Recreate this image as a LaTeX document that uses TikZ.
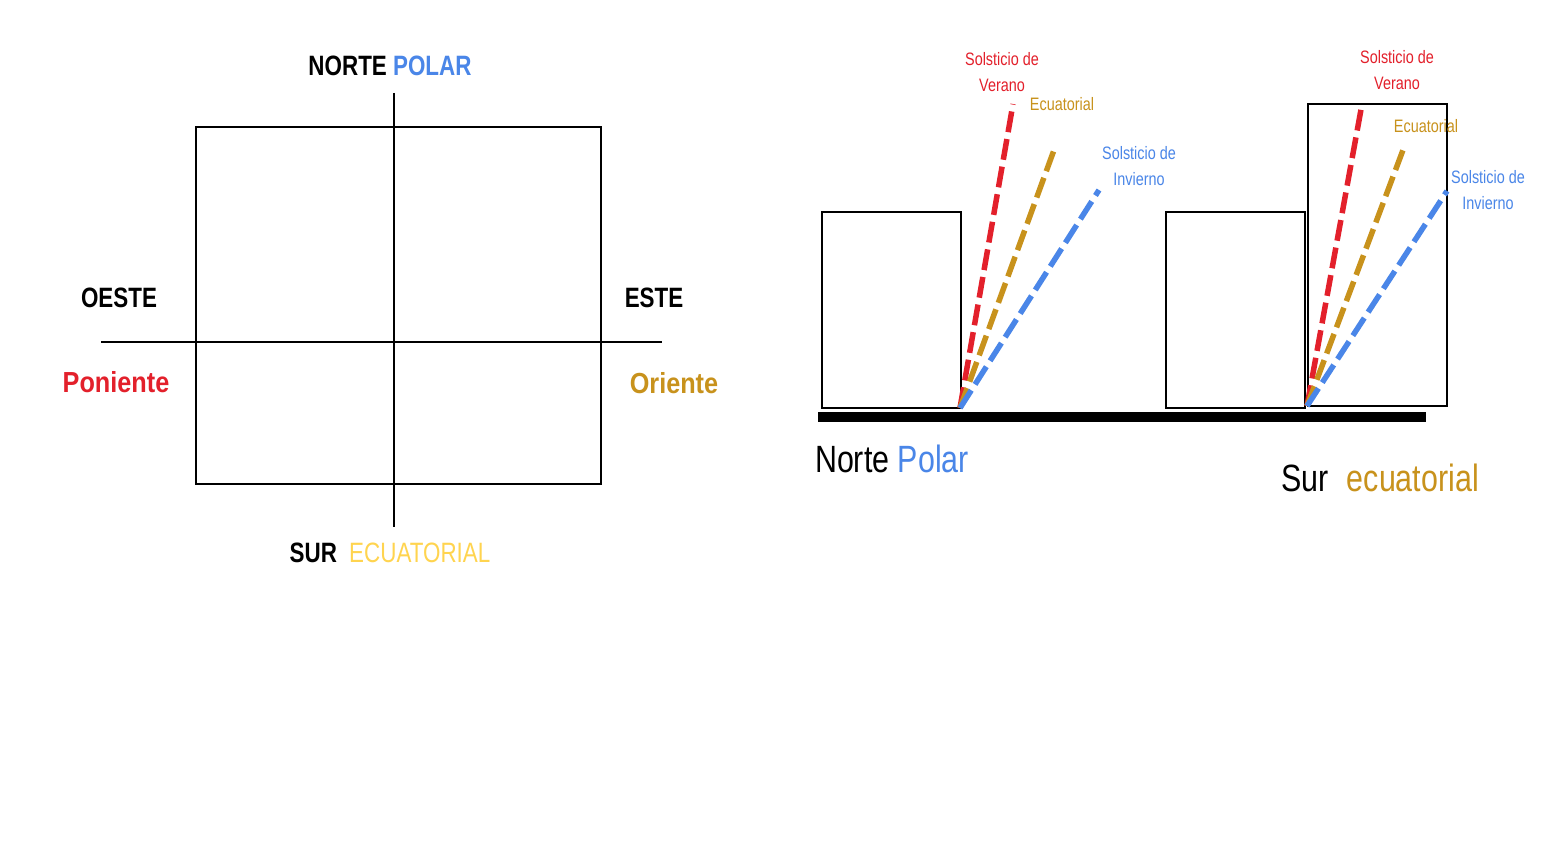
\documentclass[tikz,border=0pt]{standalone}
\usepackage{fontspec}
\setmainfont[FakeStretch=0.8]{Liberation Sans}
\newfontfamily\widefont[FakeStretch=0.87]{Liberation Sans}
\definecolor{cred}{HTML}{E3202B}
\definecolor{cblue}{HTML}{4A86E8}
\definecolor{cgold}{HTML}{C8921C}
\definecolor{cyel}{HTML}{FFD44F}
\begin{document}
\begin{tikzpicture}[x=1pt,y=-1pt,
  thinline/.style={line width=1.8pt,black},
  boxline/.style={line width=1.8pt,black},
  ray/.style={line width=5.5pt,dash pattern=on 21pt off 7pt},
  biglab/.style={font=\fontsize{28}{32}\selectfont\bfseries,inner sep=0pt},
  widelab/.style={font=\widefont\fontsize{29}{32}\selectfont\bfseries,inner sep=0pt},
  smalllab/.style={font=\fontsize{18}{26}\selectfont,align=center,inner sep=0pt},
  ground/.style={font=\fontsize{38}{44}\selectfont,inner sep=0pt}]
\useasboundingbox (0,0) rectangle (1548,842);
\fill[white] (0,0) rectangle (1548,842);
% ---- left: compass plan
\coordinate (rtl) at (196,127);
\coordinate (rbr) at (601,484);
\draw[boxline] (rtl) rectangle (rbr);
\coordinate (vt) at (394,93);
\coordinate (vb) at (394,527);
\coordinate (hl) at (101,342);
\coordinate (hr) at (662,342);
\draw[thinline] (vt) -- (vb);
\draw[thinline] (hl) -- (hr);
\node[biglab] (norte) at (390,65.5) {NORTE \textcolor{cblue}{POLAR}};
\node[biglab] (oeste) at (119,298) {OESTE};
\node[biglab] (este) at (654,298) {ESTE};
\node[widelab,text=cred] (poniente) at (116,382) {Poniente};
\node[widelab,text=cgold] (oriente) at (674,383) {Oriente};
\node[biglab] (sur) at (390,552.5) {SUR\hspace{6pt} \textcolor{cyel}{\mdseries ECUATORIAL}};
% ---- right: sections
\coordinate (b1tl) at (822,212);
\coordinate (b1br) at (961,408);
\coordinate (b2tl) at (1166,212);
\coordinate (b2br) at (1305,408);
\coordinate (b3tl) at (1308,104);
\coordinate (b3br) at (1447,406);
\draw[boxline] (b1tl) rectangle (b1br);
\draw[boxline] (b2tl) rectangle (b2br);
\draw[boxline] (b3tl) rectangle (b3br);
\coordinate (gl) at (818,417);
\coordinate (gr) at (1426,417);
\draw[line width=10pt] (gl) -- (gr);
% rays set 1
\coordinate (o1) at (960,408);
\coordinate (r1) at (1013,104);
\coordinate (g1) at (1054,150);
\coordinate (u1) at (1099,190);
\draw[ray,cred] (o1) -- (r1);
\draw[ray,cgold] (o1) -- (g1);
\draw[ray,cblue] (o1) -- (u1);
% rays set 2
\coordinate (o2) at (1307,406);
\coordinate (r2) at (1362,104);
\coordinate (g2) at (1403,150);
\coordinate (u2) at (1447,191);
\draw[ray,cred] (o2) -- (r2);
\draw[ray,cgold] (o2) -- (g2);
\draw[ray,cblue] (o2) -- (u2);
% labels
\node[smalllab,text=cred] (ver1) at (1002,72) {Solsticio de\\Verano};
\node[smalllab,text=cgold] (ecu1) at (1062,104) {Ecuatorial};
\node[smalllab,text=cblue] (inv1) at (1139,166) {Solsticio de\\Invierno};
\node[smalllab,text=cred] (ver2) at (1397,70) {Solsticio de\\Verano};
\node[smalllab,text=cgold] (ecu2) at (1426,126) {Ecuatorial};
\node[smalllab,text=cblue] (inv2) at (1488,190) {Solsticio de\\Invierno};
\node[ground] (np) at (892,459) {Norte \textcolor{cblue}{Polar}};
\node[ground] (se) at (1380,478) {Sur\hspace{10pt} \textcolor{cgold}{ecuatorial}};
\end{tikzpicture}
\end{document}
